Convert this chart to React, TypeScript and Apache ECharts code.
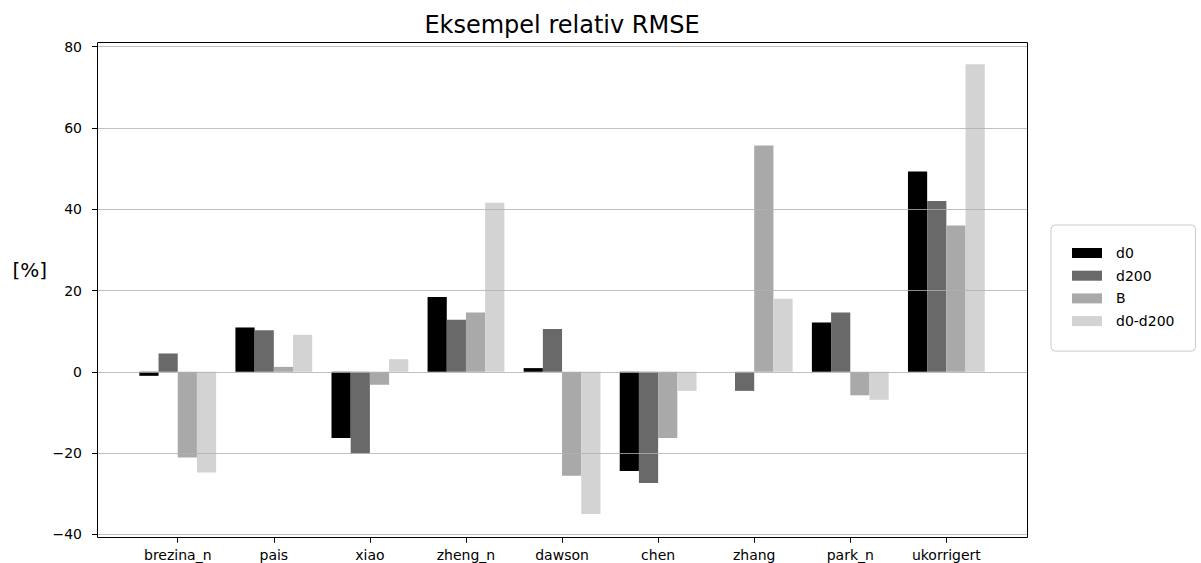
import React, { useEffect, useRef } from "react";
import * as echarts from "echarts";

// Categories and series values (relative RMSE, %)
const categories = ["brezina_n", "pais", "xiao", "zheng_n", "dawson", "chen", "zhang", "park_n", "ukorrigert"];
const seriesNames = ["d0", "d200", "B", "d0-d200"];
const d0 = [-1.0, 10.9, -16.3, 18.4, 0.9, -24.4, 0, 12.1, 49.3];
const d200 = [4.5, 10.2, -20.1, 12.8, 10.5, -27.4, -4.7, 14.6, 42.0];
const bValues = [-21.1, 1.2, -3.2, 14.6, -25.6, -16.3, 55.7, -5.8, 36.0];
const d0MinusD200 = [-24.8, 9.1, 3.1, 41.6, -35.0, -4.7, 18.0, -6.9, 75.7];
const yTicks = { min: -40, max: 80, step: 20 };

const colors = ["#000000", "#696969", "#a9a9a9", "#d3d3d3"];
const FONT = "DejaVu Sans";

const fmtTick = (v: number) => (v < 0 ? "\u2212" + Math.abs(v) : String(v));

export default function App() {
  const ref = useRef<HTMLDivElement>(null);

  useEffect(() => {
    if (!ref.current) return;
    const chart = echarts.init(ref.current, undefined, { renderer: "svg" });
    const values = [d0, d200, bValues, d0MinusD200];

    const plotTop = 46.7;
    const plotBottom = 28.7;

    chart.setOption({
      animation: false,
      backgroundColor: "#ffffff",
      textStyle: { fontFamily: FONT },
      grid: [
        // value grid: gridlines, y ticks and labels
        { left: 97, right: 173.5, top: plotTop, bottom: plotBottom, containLabel: false, outerBoundsMode: "none" },
        // bar grid: category bands
        { left: 129.7, width: 864.7, top: plotTop, bottom: plotBottom, containLabel: false, outerBoundsMode: "none" },
      ],
      xAxis: [
        { gridIndex: 0, type: "value", min: 0, max: 1, show: false },
        {
          gridIndex: 1,
          type: "category",
          data: categories,
          position: "bottom",
          offset: 3.4,
          axisLine: { show: false, onZero: false },
          axisTick: { show: true, alignWithLabel: true, length: 5, lineStyle: { color: "#000", width: 1 } },
          axisLabel: { margin: 10.5, color: "#000", fontSize: 14, fontFamily: FONT, interval: 0 },
          splitLine: { show: false },
        },
      ],
      yAxis: [
        {
          gridIndex: 0,
          type: "value",
          min: yTicks.min,
          max: yTicks.max,
          interval: yTicks.step,
          z: 10,
          axisLine: { show: false, onZero: false },
          axisTick: { show: true, length: 5, lineStyle: { color: "#000", width: 1 } },
          axisLabel: { margin: 15, color: "#000", fontSize: 14, fontFamily: FONT, formatter: fmtTick },
          splitLine: { show: true, lineStyle: { color: "#b0b0b0", width: 0.8 } },
        },
        {
          gridIndex: 1,
          type: "value",
          min: yTicks.min,
          max: yTicks.max,
          interval: yTicks.step,
          show: false,
          axisLine: { onZero: false },
          splitLine: { show: false },
        },
      ],
      legend: {
        orient: "vertical",
        left: 1051,
        top: 225,
        padding: [21, 21, 23, 21],
        itemWidth: 30,
        itemHeight: 10,
        itemGap: 8.7,
        icon: "rect",
        borderColor: "#cccccc",
        borderWidth: 1,
        borderRadius: 4,
        backgroundColor: "#ffffff",
        textStyle: { fontSize: 14, color: "#000", fontFamily: FONT, padding: [0, 0, 0, 9] },
        data: seriesNames,
      },
      series: seriesNames.map((name, i) => ({
        name,
        type: "bar",
        xAxisIndex: 1,
        yAxisIndex: 1,
        barWidth: 19.2,
        barGap: "0%",
        itemStyle: { color: colors[i] },
        data: values[i],
      })),
      graphic: [
        {
          type: "rect",
          z: 20,
          silent: true,
          shape: { x: 97.5, y: 42.5, width: 930, height: 495 },
          style: { fill: "none", stroke: "#000", lineWidth: 1 },
        },
        {
          type: "text",
          x: 562,
          y: 24.7,
          style: {
            text: "Eksempel relativ RMSE",
            fontSize: 24,
            fontFamily: FONT,
            fill: "#000",
            textAlign: "center",
            textVerticalAlign: "middle",
          },
        },
        {
          type: "text",
          x: 29.7,
          y: 269.5,
          style: {
            text: "[%]",
            fontSize: 20,
            fontFamily: FONT,
            fill: "#000",
            textAlign: "center",
            textVerticalAlign: "middle",
          },
        },
      ],
    });

    return () => chart.dispose();
  }, []);

  return (
    <div
      ref={ref}
      style={{ position: "absolute", left: 0, top: 0, width: 1201, height: 563, overflow: "hidden" }}
    />
  );
}
